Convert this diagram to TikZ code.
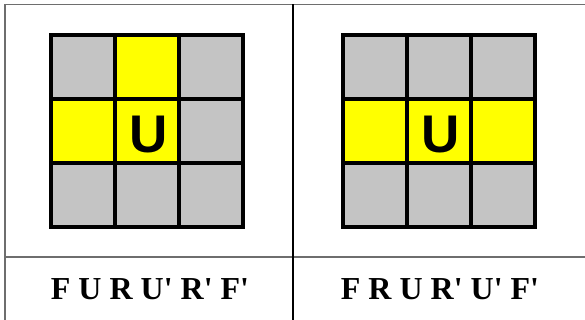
\documentclass[tikz,border=0pt]{standalone}
\usepackage{fontspec}
\usepackage{tikz}
\usetikzlibrary{positioning,calc}
\newfontfamily\movefont{Liberation Serif}
\newfontfamily\facefont{Liberation Sans}
\definecolor{Grey}{HTML}{C4C4C4}
\definecolor{Yellow}{HTML}{FFFF00}
\definecolor{RuleGrey}{HTML}{6E6E6E}

\begin{document}
\begin{tikzpicture}[
        x=1pt, y=-1pt,
        cell/.style={draw=black, line width=4pt, minimum size=64pt, inner sep=0pt},
        facelabel/.style={font=\facefont\bfseries\fontsize{53}{53}\selectfont, inner sep=0pt},
        moves/.style={font=\movefont\bfseries\fontsize{32}{32}\selectfont, inner sep=0pt},
        rule/.style={draw=RuleGrey, line width=1.5pt},
        midrule/.style={draw=black, line width=1.5pt}
    ]
        \useasboundingbox (0,0) rectangle (585,320);

        % table frame
        \coordinate (tl) at (5,4.5);
        \coordinate (tr) at (585,4.5);
        \coordinate (bl) at (5,320);
        \coordinate (ml) at (5,257);
        \coordinate (mr) at (585,257);
        \coordinate (mt) at (293,4.5);
        \coordinate (mb) at (293,320);
        \draw[rule] (bl) -- (tl) -- (tr);
        \draw[rule] (ml) -- (mr);
        \draw[midrule] (mt) -- (mb);

        % left face
        \foreach \fc [count=\k from 0] in {Grey,Yellow,Grey,Yellow,Yellow,Grey,Grey,Grey,Grey}{
            \pgfmathtruncatemacro{\row}{div(\k,3)}
            \pgfmathtruncatemacro{\col}{mod(\k,3)}
            \node[cell, fill=\fc] (a\k) at (83+64*\col, 67+64*\row) {};
        }
        \node[facelabel] (ua) at ($(a4)+(2,4)$) {U};

        % right face
        \foreach \fc [count=\k from 0] in {Grey,Grey,Grey,Yellow,Yellow,Yellow,Grey,Grey,Grey}{
            \pgfmathtruncatemacro{\row}{div(\k,3)}
            \pgfmathtruncatemacro{\col}{mod(\k,3)}
            \node[cell, fill=\fc] (b\k) at (375+64*\col, 67+64*\row) {};
        }
        \node[facelabel] (ub) at ($(b4)+(2,4)$) {U};

        \node[moves] (alga) at (150,289) {F U R U' R' F'};
        \node[moves] (algb) at (440,289) {F R U R' U' F'};
    \end{tikzpicture}
\end{document}
